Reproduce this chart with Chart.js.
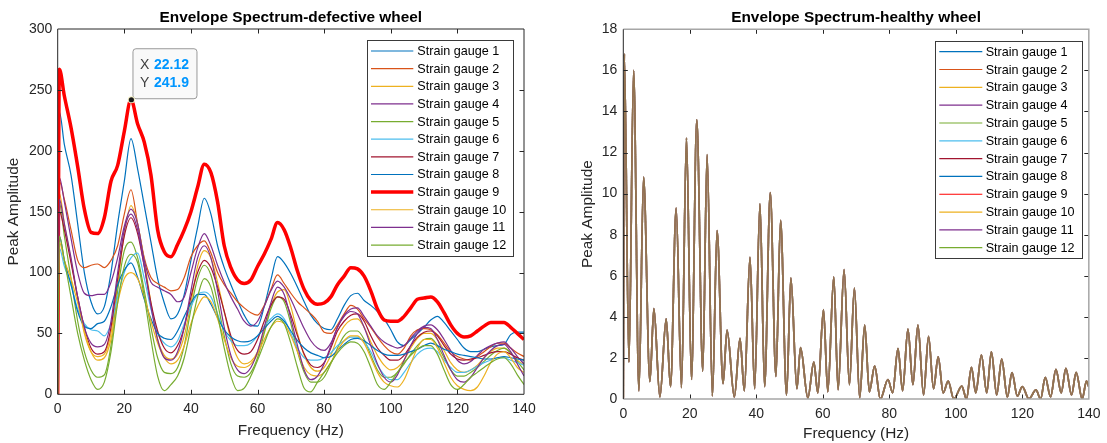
<!DOCTYPE html>
<html><head><meta charset="utf-8">
<script src="https://cdn.jsdelivr.net/npm/chart.js@4.4.1/dist/chart.umd.min.js"></script>
<style>
html,body{margin:0;padding:0;background:#fff;}
#wrap{position:relative;width:1107px;height:443px;overflow:hidden;background:#fff;}
.pane{position:absolute;top:0;height:443px;}
#p1{left:0;width:560px;} #p2{left:560px;width:547px;}
canvas{display:block;}
</style></head><body>
<div id="wrap">
<div class="pane" id="p1"><canvas id="c1" width="560" height="443"></canvas></div>
<div class="pane" id="p2"><canvas id="c2" width="547" height="443"></canvas></div>
</div>
<script>
const FONT = '"Liberation Sans", Arial, Helvetica, sans-serif';

// ---------- data ----------
const titleDefective = 'Envelope Spectrum-defective wheel';
const titleHealthy = 'Envelope Spectrum-healthy wheel';
const xLabel = 'Frequency (Hz)';
const yLabel = 'Peak Amplitude';
const seriesNames = ['Strain gauge 1','Strain gauge 2','Strain gauge 3','Strain gauge 4','Strain gauge 5','Strain gauge 6','Strain gauge 7','Strain gauge 8','Strain gauge 9','Strain gauge 10','Strain gauge 11','Strain gauge 12'];
const seriesColors = ['#0072BD','#D95319','#EDB120','#7E2F8E','#77AC30','#4DBEEE','#A2142F','#0072BD','#FF0000','#EDB120','#7E2F8E','#77AC30'];

const xTicks = [0,20,40,60,80,100,120,140];
const yTicksDefective = [0,50,100,150,200,250,300];
const yTicksHealthy = [0,2,4,6,8,10,12,14,16,18];

const freqDefective = [0,0.5,2,4,6,8,10,12,14,16,18,20,22,24,26,28,30,32,34,36,38,40,42,44,46,48,50,52,54,56,58,60,62,64,66,68,70,72,74,76,78,80,82,84,86,88,90,92,94,96,98,100,102,104,106,108,110,112,114,116,118,120,122,124,126,128,130,132,134,136,138,140];

const gauge1 = [0,232,205,180,140,100,76,66,72,100,140,175,
 210,185,155,125,95,75,62,66,82,110,137,161,
 148,122,104,90,77,65,57,56,72,94,113,108,
 99,88,76,65,58,54,53,62,73,81,83,77,
 73,68,62,53,43,40,45,50,55,61,64,59,
 52,45,38,35,35,37,39,40,41,49,51,51];
const gauge2 = [0,175,160,135,110,104,106,107,104,110,122,148,
 168,140,112,96,91,88,85,86,96,113,122,126,
 116,100,90,83,76,71,67,65,73,86,98,91,
 83,76,71,66,60,51,50,57,66,73,70,62,
 55,47,40,35,33,38,48,53,54,53,49,42,
 35,31,29,28,31,35,39,42,42,38,34,31];
const gauge3 = [0,165,140,110,78,50,35,31,33,50,90,132,
 155,140,110,75,45,32,29,33,48,75,105,118,
 112,92,68,45,30,25,27,35,52,72,84,86,
 72,50,32,22,19,22,32,46,56,61,62,55,
 43,32,24,20,22,28,38,46,50,50,45,36,
 26,20,18,20,24,30,35,38,38,34,28,24];
const gauge4 = [0,178,158,128,100,83,81,82,82,92,112,138,
 152,140,110,92,88,85,82,76,80,100,120,132,
 122,106,92,80,70,60,56,60,72,85,93,88,
 78,66,54,44,38,36,42,55,65,70,71,64,
 56,48,43,40,38,40,46,52,56,57,53,45,
 36,28,25,27,32,37,40,42,43,38,31,25];
const gauge5 = [0,157,130,95,60,35,20,14,16,40,85,118,
 125,112,85,55,30,18,17,22,40,70,95,106,
 98,75,48,25,15,14,18,30,50,70,80,76,
 58,35,18,10,10,14,25,38,48,52,52,45,
 32,20,14,14,18,25,33,40,45,46,40,30,
 20,15,15,18,22,27,32,36,38,34,27,20];
const gauge6 = [0,120,105,90,70,58,53,52,48,58,80,100,
 112,116,95,70,50,42,39,44,58,72,82,84,
 80,66,52,44,40,40,42,48,56,62,66,62,
 50,38,30,28,28,30,34,40,44,47,47,43,
 35,24,16,12,12,18,26,33,37,38,35,28,
 22,18,18,20,23,26,28,30,30,28,26,24];
const gauge7 = [0,150,135,108,80,55,38,33,35,55,95,130,
 145,132,105,75,52,38,34,40,55,80,100,110,
 104,88,68,48,36,33,35,45,60,73,80,78,
 65,48,33,24,22,26,38,52,60,65,66,60,
 48,38,32,28,28,32,40,47,51,52,48,40,
 33,29,28,29,30,32,34,35,35,33,30,28];
const gauge8 = [0,130,110,90,68,56,54,58,60,72,90,102,
 108,96,78,62,50,46,45,52,64,75,82,82,
 74,63,53,47,44,43,44,48,54,60,64,60,
 52,44,38,34,32,30,31,36,41,45,46,44,
 40,36,33,32,32,33,35,37,40,42,40,37,
 35,33,32,31,30,29,29,30,31,30,29,28];
const gauge9 = [0,267,245,219,187,152,133,132,145,175,188,216,
 242,222,207,180,135,117,113,123,135,150,170,189,
 182,158,122,104,94,91,94,105,115,127,141,135,
 120,101,86,77,74,75,80,90,97,104,103,97,
 85,70,61,60,60,64,71,78,79,80,76,67,
 57,50,47,48,52,56,59,59,59,55,50,45];
const gauge10 = [0,125,110,95,75,52,35,28,30,45,75,95,
 100,95,80,60,42,30,25,28,40,58,72,80,
 76,62,45,30,23,22,25,33,45,55,60,58,
 48,35,22,16,15,18,26,36,44,48,48,42,
 30,18,10,7,6,12,25,38,45,45,38,26,
 14,7,4,3,6,15,26,33,35,30,22,18];
const gauge11 = [0,160,140,112,80,55,42,39,41,60,100,135,
 148,135,105,72,45,30,28,35,55,85,112,122,
 112,85,55,32,20,17,22,35,55,75,88,82,
 62,40,20,12,15,25,40,55,64,68,66,55,
 40,25,14,10,16,28,40,50,55,54,45,32,
 20,12,10,14,22,30,36,40,41,35,25,15];
const gauge12 = [0,130,110,80,50,28,12,4,10,35,75,105,
 115,108,80,45,15,3,8,15,30,55,80,95,
 88,65,38,15,3,5,15,28,42,55,62,58,
 42,22,5,2,10,18,26,34,40,43,42,35,
 22,8,4,10,18,26,32,37,40,40,33,20,
 8,4,8,14,18,22,26,29,30,25,16,8];
const defectiveSeries = [gauge1,gauge2,gauge3,gauge4,gauge5,gauge6,gauge7,gauge8,gauge9,gauge10,gauge11,gauge12];

// data tip on strain gauge 9
const tipX = 22.12, tipY = 241.9;

// healthy wheel: all 12 gauges coincide
const freqHealthy = [0,0.3,1.7,3.1,4.7,6.1,8.0,9.2,11.0,12.9,14.2,15.9,17.5,19.0,20.5,22.1,23.9,25.2,26.8,28.2,30.0,31.2,33.4,35.1,36.4,38.1,39.5,41.1,42.5,44.2,45.9,47.3,49.1,50.4,52.2,53.3,55.5,57.3,58.5,60.2,61.5,63.3,64.6,66.4,68.0,69.5,71.1,72.6,74.0,75.6,77.3,79.6,81.0,82.6,84.0,85.6,87.1,88.6,90.3,91.8,93.3,94.7,96.2,97.7,99.4,101.8,103.2,104.7,106.0,107.7,109.3,110.7,112.3,113.8,115.5,116.9,118.5,120.0,122.0,124.1,125.5,126.9,128.5,130.1,131.7,133.1,134.8,136.2,138.0,139.3,140];
const ampHealthy = [0,16.8,1.8,16.0,0.4,10.8,0.85,4.4,0.1,3.9,0.6,9.3,0.55,12.7,0.95,13.6,1.35,11.9,0.15,8.2,0.75,3.35,0.1,2.95,0.4,6.9,0.5,9.5,0.6,10.05,1.1,8.7,0.2,5.9,0.5,2.5,0.05,1.8,0.3,4.35,0.35,5.95,0.45,6.3,0.7,5.4,0.05,3.6,0.35,1.6,0.0,0.95,0.3,2.45,0.4,3.4,0.7,3.6,0.2,3.05,0.5,2.05,0.3,0.87,0.0,0.63,0.0,1.54,0.3,2.14,0.3,2.3,0.2,1.94,0.1,1.28,0.14,0.6,0.0,0.44,0.0,1.05,0.1,1.44,0.3,1.49,0.2,1.3,0.0,0.87,0.6];

// ---------- helpers ----------
function toPts(xs, ys) { return xs.map((x, i) => ({x: x, y: ys[i]})); }
function hexA(hex, a) {
  const n = parseInt(hex.slice(1), 16);
  return 'rgba(' + ((n >> 16) & 255) + ',' + ((n >> 8) & 255) + ',' + (n & 255) + ',' + a + ')';
}

function decoPlugin(o) {
  return {
    id: 'deco',
    afterDatasetsDraw(chart) {
      const ctx = chart.ctx, a = chart.chartArea, sx = chart.scales.x, sy = chart.scales.y;
      const L = a.left, R = a.right, T = a.top, B = a.bottom;
      ctx.save();
      // inward ticks
      ctx.strokeStyle = '#262626'; ctx.lineWidth = 1;
      ctx.beginPath();
      o.xt.forEach(v => {
        const p = Math.round(sx.getPixelForValue(v)) + 0.5;
        if (p <= L + 2 || p >= R - 2) return;
        ctx.moveTo(p, B); ctx.lineTo(p, B - 4.5);
        ctx.moveTo(p, T); ctx.lineTo(p, T + 4.5);
      });
      o.yt.forEach(v => {
        const p = Math.round(sy.getPixelForValue(v)) + 0.5;
        if (p <= T + 2 || p >= B - 2) return;
        ctx.moveTo(L, p); ctx.lineTo(L + 4.5, p);
        ctx.moveTo(R, p); ctx.lineTo(R - 4.5, p);
      });
      ctx.stroke();
      // frame
      ctx.strokeStyle = o.boxColor; ctx.lineWidth = o.boxWidth;
      ctx.beginPath();
      ctx.moveTo(L, T); ctx.lineTo(R, T); ctx.lineTo(R, B);
      if (o.bottomGray) ctx.lineTo(L, B);
      ctx.stroke();
      ctx.strokeStyle = '#262626'; ctx.lineWidth = 1;
      ctx.beginPath();
      if (!o.bottomGray) { ctx.moveTo(R, B); ctx.lineTo(L, B); } else { ctx.moveTo(L, B); }
      ctx.lineTo(L, T);
      ctx.stroke();
      // title
      ctx.fillStyle = '#000';
      ctx.font = 'bold 15.4px ' + FONT;
      ctx.textAlign = 'center'; ctx.textBaseline = 'alphabetic';
      ctx.fillText(o.title, (L + R) / 2, 21.6);
      // legend
      const g = o.legend;
      ctx.fillStyle = '#fff';
      ctx.fillRect(g.x0, g.y0, g.x1 - g.x0, g.y1 - g.y0);
      ctx.strokeStyle = '#3a3a3a'; ctx.lineWidth = 1;
      ctx.strokeRect(Math.round(g.x0) + 0.5, Math.round(g.y0) + 0.5, Math.round(g.x1 - g.x0), Math.round(g.y1 - g.y0));
      ctx.font = '12.6px ' + FONT;
      ctx.textAlign = 'left'; ctx.textBaseline = 'middle';
      seriesNames.forEach((name, i) => {
        const yy = g.row0 + i * g.dy;
        ctx.strokeStyle = seriesColors[i];
        ctx.lineWidth = (o.widths && o.widths[i]) || 1.2;
        ctx.beginPath(); ctx.moveTo(g.lx0, yy); ctx.lineTo(g.lx1, yy); ctx.stroke();
        ctx.fillStyle = '#000';
        ctx.fillText(name, g.tx, yy + 0.5);
      });
      // data tip
      if (o.tip) {
        const px = sx.getPixelForValue(o.tip.x), py = sy.getPixelForValue(o.tip.y);
        const bx = px + 1.6, by = py - 51, bw = 64, bh = 50, r = 3;
        ctx.beginPath();
        ctx.moveTo(bx + r, by); ctx.lineTo(bx + bw - r, by); ctx.arcTo(bx + bw, by, bx + bw, by + r, r);
        ctx.lineTo(bx + bw, by + bh - r); ctx.arcTo(bx + bw, by + bh, bx + bw - r, by + bh, r);
        ctx.lineTo(bx + r, by + bh); ctx.arcTo(bx, by + bh, bx, by + bh - r, r);
        ctx.lineTo(bx, by + r); ctx.arcTo(bx, by, bx + r, by, r);
        ctx.closePath();
        ctx.fillStyle = '#f9f9f9'; ctx.fill();
        ctx.strokeStyle = '#9a9a9a'; ctx.lineWidth = 1; ctx.stroke();
        ctx.textBaseline = 'middle'; ctx.textAlign = 'left';
        ctx.font = '14px ' + FONT; ctx.fillStyle = '#404040';
        ctx.fillText('X', bx + 7, by + 16.5);
        ctx.fillText('Y', bx + 7, by + 34);
        ctx.font = 'bold 14px ' + FONT; ctx.fillStyle = '#0096FF';
        ctx.fillText(o.tip.x.toFixed(2), bx + 21, by + 16.5);
        ctx.fillText(o.tip.y.toFixed(1), bx + 21, by + 34);
        ctx.beginPath(); ctx.arc(px, py, 3.6, 0, Math.PI * 2); ctx.fillStyle = '#f3efc4'; ctx.fill();
        ctx.beginPath(); ctx.arc(px, py, 2.6, 0, Math.PI * 2); ctx.fillStyle = '#1a1a1a'; ctx.fill();
      }
      ctx.restore();
    }
  };
}

function scalesCfg(ymax, yt, yw, xh, ytPad, xTitlePadB, yTitlePadT) {
  const tickFont = {family: FONT, size: 14};
  return {
    x: {
      type: 'linear', min: 0, max: 140,
      afterBuildTicks: s => { s.ticks = xTicks.map(v => ({value: v})); },
      ticks: {font: tickFont, color: '#262626', padding: 6.5, maxRotation: 0, autoSkip: false},
      grid: {display: false, drawTicks: false},
      border: {display: false},
      title: {display: true, text: xLabel, color: '#262626', font: {family: FONT, size: 15.4}, padding: {top: 0, bottom: xTitlePadB}},
      afterFit: s => { s.height = xh; }
    },
    y: {
      type: 'linear', min: 0, max: ymax,
      afterBuildTicks: s => { s.ticks = yt.map(v => ({value: v})); },
      ticks: {font: tickFont, color: '#262626', padding: ytPad, autoSkip: false},
      grid: {display: false, drawTicks: false},
      border: {display: false},
      title: {display: true, text: yLabel, color: '#262626', font: {family: FONT, size: 15.4}, padding: {top: yTitlePadT, bottom: 0}},
      afterFit: s => { s.width = yw; }
    }
  };
}

const common = {
  responsive: false, animation: false, events: [],
  plugins: {legend: {display: false}, tooltip: {enabled: false}, title: {display: false}},
  elements: {point: {radius: 0}}
};

// ---------- left chart ----------
const leftWidths = seriesNames.map((n, i) => i === 8 ? 3.5 : 1.2);
new Chart(document.getElementById('c1'), {
  type: 'line',
  data: {
    datasets: defectiveSeries.map((vals, i) => ({
      label: seriesNames[i],
      data: toPts(freqDefective, vals),
      borderColor: seriesColors[i],
      borderWidth: leftWidths[i],
      cubicInterpolationMode: 'monotone',
      fill: false,
      order: 12 - i
    }))
  },
  options: Object.assign({}, common, {
    layout: {padding: {left: 0, right: 36, top: 29, bottom: 0}},
    scales: scalesCfg(300, yTicksDefective, 57.7, 48.7, 5.4, 2.8, 5)
  }),
  plugins: [decoPlugin({
    xt: xTicks, yt: yTicksDefective, title: titleDefective,
    boxColor: '#262626', boxWidth: 1, bottomGray: false,
    widths: leftWidths,
    legend: {x0: 366.5, y0: 40, x1: 512.5, y1: 255.5, row0: 51, dy: 17.64, lx0: 371, lx1: 413.3, tx: 417.3},
    tip: {x: tipX, y: tipY}
  })]
});

// ---------- right chart ----------
new Chart(document.getElementById('c2'), {
  type: 'line',
  data: {
    datasets: seriesNames.map((n, i) => ({
      label: n,
      data: toPts(freqHealthy, ampHealthy),
      borderColor: hexA(seriesColors[i], 0.33),
      borderWidth: 1.7,
      cubicInterpolationMode: 'monotone',
      fill: false,
      order: 12 - i
    }))
  },
  options: Object.assign({}, common, {
    layout: {padding: {left: 0, right: 14, top: 29.3, bottom: 0}},
    scales: scalesCfg(18, yTicksHealthy, 63.3, 44, 6, 0, 18.5)
  }),
  plugins: [decoPlugin({
    xt: xTicks, yt: yTicksHealthy, title: titleHealthy,
    boxColor: '#a6a6a6', boxWidth: 1.5, bottomGray: true,
    legend: {x0: 374.5, y0: 40.5, x1: 521.5, y1: 257.5, row0: 51.7, dy: 17.82, lx0: 379.3, lx1: 422.3, tx: 425.7}
  })]
});
</script>
</body></html>
